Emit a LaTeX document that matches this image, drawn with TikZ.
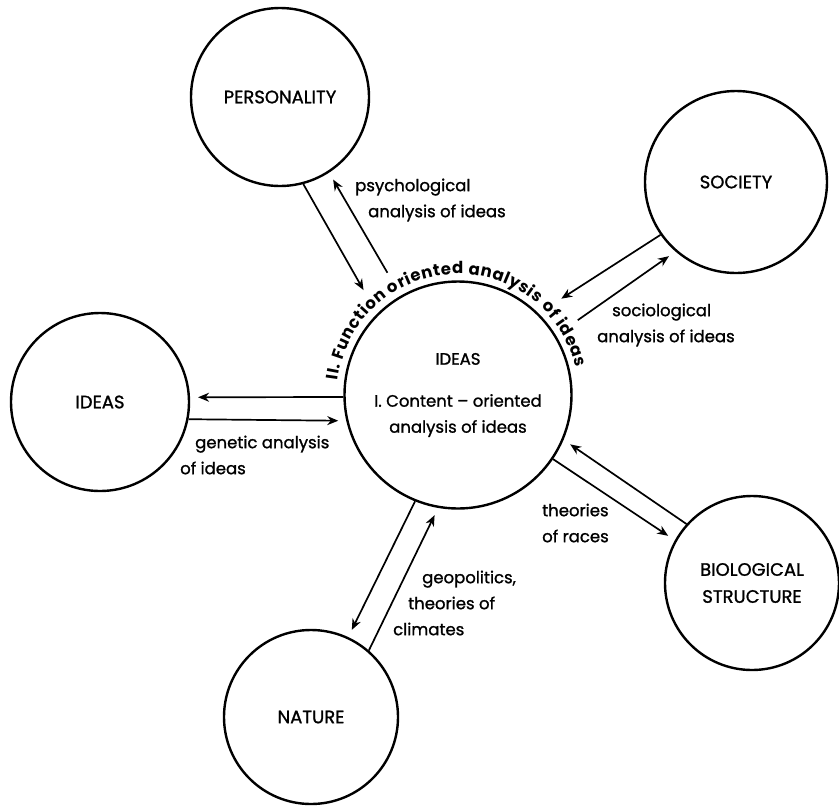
\documentclass[tikz,border=0pt]{standalone}
\usepackage{fontspec}
\setmainfont{Poppins}
\newfontfamily\medfont{Poppins}[FakeBold=1.2]
\usetikzlibrary{arrows.meta,decorations.text}

\tikzset{
  topic/.style={draw,circle,line width=2.4pt,minimum size=178,inner sep=0pt,align=center,font=\medfont\fontsize{18}{27}\selectfont},
  link/.style={line width=1.7pt,-{Stealth[length=11pt,width=9pt]},shorten >=8pt},
  note/.style={anchor=west,align=left,inner sep=0pt,font=\medfont\fontsize{16.5}{26}\selectfont}
}

\begin{document}
\begin{tikzpicture}[x=1pt,y=1pt]
  \useasboundingbox (0,0) rectangle (839,-807);
  \node[topic,minimum size=227,font=\medfont\fontsize{16.5}{26}\selectfont] (idc) at (458,-395) {IDEAS\\[16pt]I. Content \textendash{} oriented\\analysis of ideas};
  \node[circle,minimum size=282,inner sep=0pt] (ring) at (idc) {};
  \node[topic] (pers) at (280,-97) {PERSONALITY};
  \node[topic,minimum size=182] (soc) at (736,-182) {SOCIETY};
  \node[topic] (ideasl) at (100,-402) {IDEAS};
  \node[topic,minimum size=174] (nat) at (311,-717) {NATURE};
  \node[topic,minimum size=174] (bio) at (752,-583) {BIOLOGICAL\\STRUCTURE};
  \path[decorate,decoration={text along path,text align={fit to path},
    text={|\bfseries\fontsize{16.5}{16.5}\selectfont|II. Function oriented analysis of ideas}}]
    (idc) ++(173:121) arc[start angle=173,end angle=13,radius=121];
  % arrows between the circles
  \draw[link,shorten >=0pt] (pers.-75) -- (ring.132);
  \draw[link] (ring.120) -- (pers.-57);
  \draw[link,shorten >=0pt] (soc.215) -- (ring.43);
  \draw[link] (ring.32) -- (soc.229);
  \draw[link] (idc.181) -- (ideasl.3);
  \draw[link] (ideasl.-11) -- (idc.193);
  \draw[link] (idc.248) -- (nat.65);
  \draw[link] (nat.49) -- (idc.260);
  \draw[link] (idc.-34) -- (bio.151);
  \draw[link] (bio.138) -- (idc.-23);
  % labels
  \node[note] (psy) at (355,-200) {psychological\\\hspace*{13pt}analysis of ideas};
  \node[note] (socl) at (597,-325) {\hspace*{15pt}sociological\\analysis of ideas};
  \node[note] (gen) at (180,-455) {\hspace*{15pt}genetic analysis\\of ideas};
  \node[note] (race) at (542,-523) {theories\\of races};
  \node[note] (geo) at (393,-603) {\hspace*{29pt}geopolitics,\\\hspace*{15pt}theories of\\climates};
\end{tikzpicture}
\end{document}
